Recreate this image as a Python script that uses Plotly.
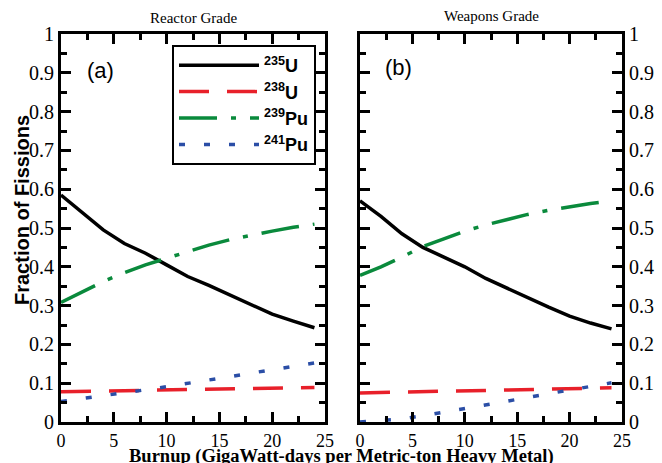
import plotly.graph_objects as go

burnup = [0, 2, 4, 6, 8, 10, 12, 14, 16, 18, 20, 22, 24]

# Reactor grade (a)
rg_u235 = [0.585, 0.540, 0.495, 0.460, 0.435, 0.405, 0.375, 0.352, 0.328, 0.303, 0.278, 0.260, 0.243]
rg_u238 = [0.078, 0.079, 0.080, 0.081, 0.082, 0.083, 0.084, 0.085, 0.086, 0.087, 0.088, 0.089, 0.089]
rg_pu239 = [0.308, 0.335, 0.362, 0.385, 0.405, 0.422, 0.440, 0.456, 0.470, 0.482, 0.492, 0.502, 0.510]
rg_pu241 = [0.053, 0.060, 0.067, 0.075, 0.083, 0.091, 0.099, 0.108, 0.117, 0.126, 0.135, 0.143, 0.152]

# Weapons grade (b)
wg_u235 = [0.570, 0.530, 0.485, 0.450, 0.425, 0.400, 0.370, 0.345, 0.320, 0.296, 0.273, 0.255, 0.240]
wg_u238 = [0.075, 0.076, 0.077, 0.078, 0.079, 0.080, 0.081, 0.083, 0.084, 0.086, 0.087, 0.088, 0.088]
wg_pu239 = [0.378, 0.400, 0.425, 0.452, 0.472, 0.492, 0.508, 0.522, 0.535, 0.546, 0.555, 0.563, 0.570]
wg_pu241 = [0.000, 0.003, 0.008, 0.016, 0.025, 0.034, 0.044, 0.053, 0.063, 0.073, 0.083, 0.092, 0.101]

names = ["<sup>235</sup>U", "<sup>238</sup>U", "<sup>239</sup>Pu", "<sup>241</sup>Pu"]
colors = ["#000000", "#e8202a", "#0a8a3c", "#2b4ea6"]
dashes = ["solid", "30px,18px", "38px,14px,5px,14px", "6px,19px"]

W, H = 662, 463
SERIF = "Liberation Serif"
fig = go.Figure()

panels = [(rg_u235, rg_u238, rg_pu239, rg_pu241), (wg_u235, wg_u238, wg_pu239, wg_pu241)]
for p, series in enumerate(panels):
    for i, ys in enumerate(series):
        fig.add_trace(go.Scatter(
            x=burnup, y=ys, mode="lines", name=names[i],
            line=dict(color=colors[i], width=3.5, dash=dashes[i]),
            xaxis="x" if p == 0 else "x2", yaxis="y" if p == 0 else "y2",
            showlegend=(p == 0),
        ))

xticks = [0, 5, 10, 15, 20, 25]
yticks = [0, 0.1, 0.2, 0.3, 0.4, 0.5, 0.6, 0.7, 0.8, 0.9, 1]

def xax(domain, anchor):
    return dict(domain=domain, anchor=anchor, range=[0, 25], tickvals=xticks,
                ticks="inside", ticklen=10, tickwidth=2.5, tickcolor="black",
                showline=True, linewidth=3, linecolor="black", mirror="ticks",
                showgrid=False, zeroline=False, automargin=False,
                tickfont=dict(family=SERIF, size=18, color="black"),
                minor=dict(dtick=2.5, ticks="inside", ticklen=6, tickwidth=2.5, tickcolor="black", showgrid=False))

def yax(domain, anchor, side):
    return dict(domain=domain, anchor=anchor, range=[0, 1], tickvals=yticks, side=side,
                automargin=False,
                ticks="inside", ticklen=10, tickwidth=2.5, tickcolor="black",
                showline=True, linewidth=3, linecolor="black", mirror="ticks",
                showgrid=False, zeroline=False,
                tickfont=dict(family=SERIF, size=20, color="black"),
                minor=dict(dtick=0.05, ticks="inside", ticklen=6, tickwidth=2.5, tickcolor="black", showgrid=False))

ydom = [(H - 422) / H, (H - 34) / H]
fig.update_layout(
    width=W, height=H,
    font=dict(family=SERIF, color="black"),
    margin=dict(l=0, r=0, t=0, b=0, autoexpand=False),
    paper_bgcolor="white", plot_bgcolor="white",
    xaxis=xax([61 / W, 325 / W], "y"),
    yaxis=yax(ydom, "x", "left"),
    xaxis2=xax([360 / W, 622 / W], "y2"),
    yaxis2=yax(ydom, "x2", "right"),
    legend=dict(x=172 / W, y=(H - 45) / H, xanchor="left", yanchor="top",
                bordercolor="black", borderwidth=2, bgcolor="white",
                font=dict(family="Liberation Sans", size=18, color="black", weight="bold"),
                itemwidth=80, tracegroupgap=0),
    showlegend=True,
)

ann = [
    dict(text="Reactor Grade", x=(61 + 325) / 2 / W, y=(H - 18) / H,
         font=dict(family=SERIF, size=15, color="black")),
    dict(text="Weapons Grade", x=(360 + 622) / 2 / W, y=(H - 16) / H,
         font=dict(family=SERIF, size=15, color="black")),
    dict(text="(a)", x=100 / W, y=(H - 70) / H,
         font=dict(family="Liberation Sans", size=22, color="black")),
    dict(text="(b)", x=398 / W, y=(H - 68) / H,
         font=dict(family="Liberation Sans", size=22, color="black")),
    dict(text="<b>Burnup (GigaWatt-days per Metric-ton Heavy Metal)</b>", x=341 / W, y=(H - 456) / H,
         font=dict(family=SERIF, size=18.5, color="black")),
    dict(text="<b>Fraction of Fissions</b>", x=22 / W, y=(H - 210) / H, textangle=-90,
         font=dict(family="Liberation Sans", size=20, color="black")),
]
for a in ann:
    a.update(xref="paper", yref="paper", showarrow=False, xanchor="center", yanchor="middle")
fig.update_layout(annotations=ann)

fig.write_html("out.html")
